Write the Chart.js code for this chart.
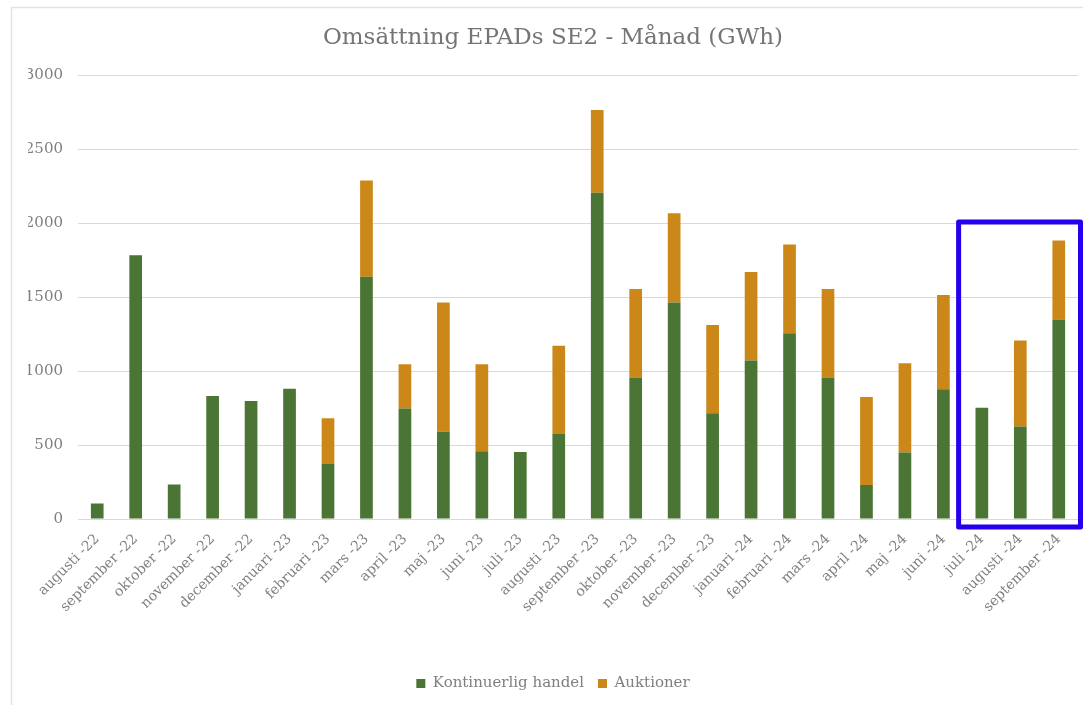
<!DOCTYPE html>
<html>
<head>
<meta charset="utf-8">
<script src="https://cdn.jsdelivr.net/npm/chart.js@4"></script>
<style>
  html, body { margin: 0; padding: 0; background: #fff; }
  #wrap { width: 1083px; height: 705px; position: relative; }
</style>
</head>
<body>
<div id="wrap"><canvas id="salesChart" width="1083" height="705"></canvas></div>
<script>
// Månader
const months = [
    'augusti -22', 'september -22', 'oktober -22', 'november -22', 'december -22',
    'januari -23', 'februari -23', 'mars -23', 'april -23', 'maj -23', 'juni -23',
    'juli -23', 'augusti -23', 'september -23', 'oktober -23', 'november -23',
    'december -23', 'januari -24', 'februari -24', 'mars -24', 'april -24',
    'maj -24', 'juni -24', 'juli -24', 'augusti -24', 'september -24'
];

// GWh per månad
const kontinuerlig = [
    105, 1784, 234, 833, 799, 882, 372, 1639, 747, 590, 459, 453, 579, 2207,
    957, 1464, 716, 1072, 1257, 957, 230, 450, 878, 752, 626, 1349
];
const auktioner = [
    0, 0, 0, 0, 0, 0, 310, 652, 300, 874, 588, 0, 594, 561,
    599, 604, 597, 599, 601, 599, 596, 604, 638, 0, 581, 536
];

const yTicks = [0, 500, 1000, 1500, 2000, 2500, 3000];

// Markerat område (de tre sista månaderna)
const highlightFrom = 'juli -24';

const colors = {
    green: '#4a7534',
    orange: '#cb8718',
    text: '#7f7f7f',
    grid: '#d9d9d9',
    frame: '#e3e3e3',
    highlight: '#2400ee'
};

const fontFamily = "Georgia, 'DejaVu Serif', serif";

// Ram runt diagrammet + blå markering
const framePlugin = {
    id: 'frame',
    beforeDraw(chart) {
        const c = chart.ctx;
        c.save();
        c.fillStyle = '#fff';
        c.fillRect(0, 0, chart.width, chart.height);
        c.strokeStyle = colors.frame;
        c.lineWidth = 1.5;
        c.strokeRect(11.5, 7.5, chart.width, chart.height);
        c.restore();
    },
    afterDraw(chart) {
        const x = chart.scales.x, y = chart.scales.y;
        const idx = months.indexOf(highlightFrom);
        const left = x.getPixelForValue(idx - 0.5) - 4;
        const right = chart.width - 2.5;
        const top = y.getPixelForValue(2010);
        const bottom = y.getPixelForValue(0) + 8;
        const c = chart.ctx;
        c.save();
        c.strokeStyle = colors.highlight;
        c.lineWidth = 5;
        c.lineJoin = 'round';
        c.strokeRect(left, top, right - left, bottom - top);
        c.restore();
    }
};

const ctx = document.getElementById('salesChart').getContext('2d');
new Chart(ctx, {
    type: 'bar',
    data: {
        labels: months,
        datasets: [
            {
                label: 'Kontinuerlig handel',
                data: kontinuerlig,
                backgroundColor: colors.green,
                barPercentage: 0.66,
                categoryPercentage: 0.5
            },
            {
                label: 'Auktioner',
                data: auktioner,
                backgroundColor: colors.orange,
                barPercentage: 0.66,
                categoryPercentage: 0.5
            }
        ]
    },
    options: {
        responsive: false,
        animation: false,
        layout: { padding: { left: 28, right: 5, top: 0, bottom: 4 } },
        plugins: {
            title: {
                display: true,
                text: 'Omsättning EPADs SE2 - Månad (GWh)',
                color: '#757575',
                font: { family: fontFamily, size: 23, weight: 'normal' },
                padding: { top: 24, bottom: 24 }
            },
            legend: {
                display: true,
                position: 'bottom',
                labels: {
                    color: colors.text,
                    boxWidth: 9,
                    boxHeight: 9,
                    padding: 14,
                    font: { family: fontFamily, size: 15 }
                }
            },
            tooltip: { enabled: false }
        },
        scales: {
            x: {
                stacked: true,
                grid: { display: false },
                border: { display: false },
                ticks: {
                    color: colors.text,
                    maxRotation: 45,
                    minRotation: 45,
                    autoSkip: false,
                    padding: 4,
                    font: { family: fontFamily, size: 14 }
                },
                afterFit(scale) { scale.height = 143; }
            },
            y: {
                stacked: true,
                min: 0,
                max: 3000,
                afterBuildTicks(scale) {
                    scale.ticks = yTicks.map(v => ({ value: v }));
                },
                grid: { color: colors.grid, lineWidth: 1, drawTicks: false },
                border: { display: false },
                ticks: {
                    color: colors.text,
                    padding: 15,
                    font: { family: fontFamily, size: 15 },
                    callback: v => String(v)
                },
                afterFit(scale) { scale.width = 50; }
            }
        }
    },
    plugins: [framePlugin]
});
</script>
</body>
</html>
